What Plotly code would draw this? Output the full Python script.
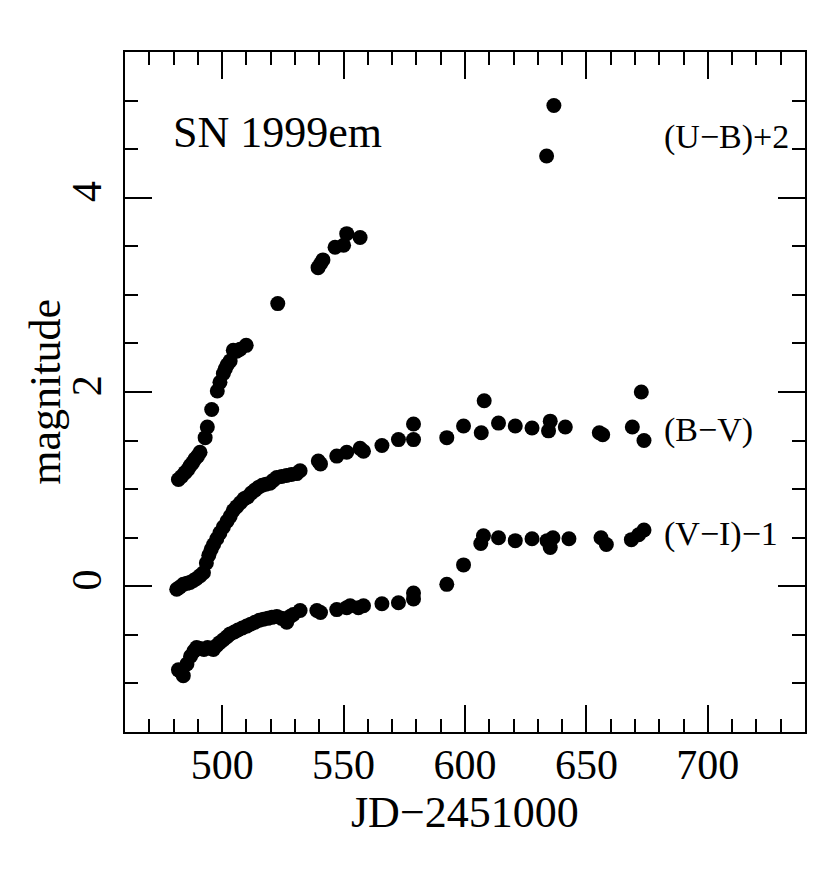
import plotly.graph_objects as go

# (U-B)+2 colour curve
ub_jd = [482.0, 483.3, 484.7, 485.8, 486.8, 487.8, 488.8, 489.9, 490.9, 493.0, 493.9,
         495.7, 498.0, 499.1, 500.5, 501.3, 502.1, 503.3, 504.6, 506.0, 507.4, 509.9,
         522.9, 539.5, 540.5, 541.5, 546.5, 550.0, 551.3, 556.8, 633.6, 636.6]
ub_mag = [1.10, 1.13, 1.17, 1.20, 1.24, 1.27, 1.31, 1.34, 1.38, 1.53, 1.64,
          1.82, 2.01, 2.10, 2.19, 2.24, 2.28, 2.32, 2.43, 2.42, 2.44, 2.48,
          2.91, 3.28, 3.32, 3.36, 3.49, 3.51, 3.63, 3.59, 4.43, 4.95]

# (B-V)
bv_jd = [481.3, 482.5, 484.0, 485.5, 486.8, 488.2, 489.5, 491.0, 492.3, 493.5, 494.5,
         495.5, 496.5, 497.8, 499.1, 500.5, 502.0, 503.3, 504.6, 506.0, 507.5, 509.0,
         510.5, 512.0, 513.5, 515.0, 516.5, 518.0, 519.7, 521.0, 522.5, 524.5, 526.5,
         528.5, 530.7, 532.1, 539.6, 540.5, 547.2, 551.3, 556.8, 558.2, 565.8, 572.6,
         578.8, 578.8, 592.5, 599.4, 606.7, 607.9, 613.8, 620.7, 627.6, 634.4, 635.1,
         641.3, 655.3, 656.7, 668.9, 672.6, 673.7]
bv_mag = [-0.03, -0.01, 0.02, 0.03, 0.04, 0.06, 0.08, 0.11, 0.14, 0.24, 0.32,
          0.38, 0.43, 0.49, 0.55, 0.61, 0.67, 0.72, 0.78, 0.82, 0.86, 0.90,
          0.92, 0.96, 0.99, 1.02, 1.04, 1.05, 1.06, 1.09, 1.12, 1.13, 1.14,
          1.15, 1.16, 1.19, 1.29, 1.26, 1.34, 1.38, 1.42, 1.39, 1.45, 1.51,
          1.51, 1.67, 1.53, 1.65, 1.58, 1.91, 1.68, 1.65, 1.63, 1.60, 1.70,
          1.64, 1.58, 1.56, 1.64, 2.00, 1.50]

# (V-I)-1
vi_jd = [482.0, 483.0, 484.0, 485.5, 487.0, 488.3, 489.5, 491.0, 492.5, 494.0, 495.3,
         496.4, 497.8, 499.0, 500.5, 502.0, 503.3, 505.0, 506.5, 508.3, 510.1, 511.8,
         513.5, 515.3, 517.0, 518.8, 520.5, 522.5, 524.5, 526.6, 528.0, 529.3, 532.1,
         539.0, 540.5, 547.2, 551.3, 552.7, 556.1, 558.2, 565.8, 572.6, 578.8, 578.8,
         592.5, 599.4, 606.5, 607.6, 613.8, 620.7, 627.6, 633.8, 635.1, 636.2, 642.8,
         656.0, 658.2, 668.5, 671.5, 673.7]
vi_mag = [-0.86, -0.88, -0.92, -0.80, -0.72, -0.67, -0.63, -0.64, -0.65, -0.63, -0.64,
          -0.65, -0.61, -0.58, -0.55, -0.52, -0.49, -0.47, -0.45, -0.43, -0.41, -0.39,
          -0.37, -0.35, -0.34, -0.33, -0.32, -0.31, -0.33, -0.37, -0.31, -0.29, -0.25,
          -0.25, -0.27, -0.24, -0.22, -0.20, -0.22, -0.20, -0.18, -0.17, -0.13, -0.07,
          0.02, 0.22, 0.44, 0.52, 0.50, 0.47, 0.49, 0.47, 0.40, 0.50, 0.49,
          0.50, 0.43, 0.48, 0.53, 0.58]

series_labels = ["(U\u2212B)+2", "(B\u2212V)", "(V\u2212I)\u22121"]
label_y = [4.62, 1.61, 0.54]

FONT = "Liberation Serif"

fig = go.Figure()
for xs, ys in [(ub_jd, ub_mag), (bv_jd, bv_mag), (vi_jd, vi_mag)]:
    fig.add_trace(go.Scatter(x=xs, y=ys, mode="markers",
                             marker=dict(color="black", size=15, line=dict(width=0)),
                             showlegend=False))

fig.add_annotation(x=479, y=4.67, text="SN 1999em", showarrow=False,
                   xanchor="left", yanchor="middle",
                   font=dict(family=FONT, size=44, color="black"))
for lab, ly in zip(series_labels, label_y):
    fig.add_annotation(x=681, y=ly, text=lab, showarrow=False,
                       xanchor="left", yanchor="middle",
                       font=dict(family=FONT, size=34, color="black"))

# axis titles placed by hand
fig.add_annotation(xref="paper", yref="paper", x=0.5, y=-0.119, text="JD\u22122451000",
                   showarrow=False, xanchor="center", yanchor="middle",
                   font=dict(family=FONT, size=44, color="black"))
fig.add_annotation(xref="paper", yref="paper", x=-0.118, y=0.5, text="magnitude",
                   showarrow=False, xanchor="center", yanchor="middle", textangle=-90,
                   font=dict(family=FONT, size=44, color="black"))

axis_style = dict(showline=True, linecolor="black", linewidth=2, mirror="allticks",
                  ticks="inside", ticklen=27, tickwidth=1.5, tickcolor="black",
                  showgrid=False, zeroline=False,
                  tickfont=dict(family=FONT, size=42, color="black"))

fig.update_xaxes(range=[460, 740], tick0=0, dtick=50,
                 minor=dict(ticks="inside", dtick=10, ticklen=13, tickwidth=1.5,
                            tickcolor="black", showgrid=False),
                 ticklabelstandoff=-5, **axis_style)
fig.update_yaxes(range=[-1.5, 5.5], tick0=0, dtick=2, tickangle=-90,
                 minor=dict(ticks="inside", dtick=0.5, ticklen=13, tickwidth=1.5,
                            tickcolor="black", showgrid=False),
                 ticklabelstandoff=5, **axis_style)

# page has an 8px body margin, so shift the plot box up/left by that much
fig.update_layout(width=830, height=883, plot_bgcolor="white", paper_bgcolor="white",
                  margin=dict(l=117, r=33, t=44, b=159))

fig.write_html("out.html")
